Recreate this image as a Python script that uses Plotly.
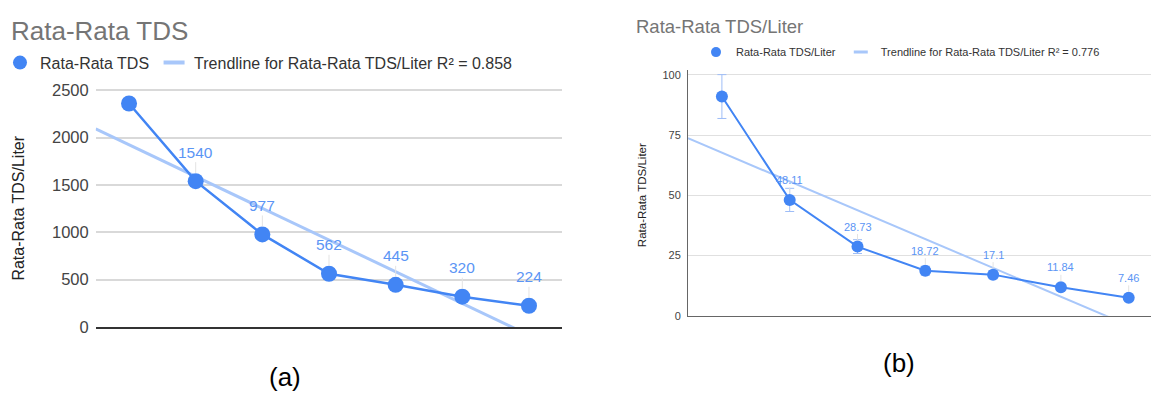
import numpy as np
import plotly.graph_objects as go

# ---------------- data ----------------
categories = ["1", "2", "3", "4", "5", "6", "7"]
tds_avg = [2360, 1540, 977, 562, 445, 320, 224]            # chart (a)
tds_per_liter = [91.0, 48.11, 28.73, 18.72, 17.1, 11.84, 7.46]  # chart (b)
tds_ticks = [0, 500, 1000, 1500, 2000, 2500]
tdsl_ticks = [0, 25, 50, 75, 100]
r2_a = "0.858"
r2_b = "0.776"
err_percent = 10

W, H = 1151, 400
BLUE = "#4285F4"
TREND = "#a8c7fa"
LABEL = "#5b95f5"
FONT = "Liberation Sans, Arial, sans-serif"

pos = list(range(len(categories)))


def fit_line(vals, x0, x1):
    k, b = np.polyfit(np.array(pos, float), np.array(vals, float), 1)
    return [x0, x1], [k * x0 + b, k * x1 + b]


def px(x):
    return x / W


def py(y):
    return 1 - y / H


fig = go.Figure()

# ---------------- chart (a) ----------------
tx, ty = fit_line(tds_avg, -0.5, 6.5)
fig.add_trace(go.Scatter(x=tx, y=ty, mode="lines", line=dict(color=TREND, width=3),
                         showlegend=False, hoverinfo="skip", xaxis="x", yaxis="y"))
fig.add_trace(go.Scatter(x=pos, y=tds_avg, mode="lines+markers",
                         line=dict(color=BLUE, width=2.5), marker=dict(size=16, color=BLUE),
                         showlegend=False, cliponaxis=False, xaxis="x", yaxis="y"))
fig.add_trace(go.Scatter(x=[None], y=[None], mode="markers", name="Rata-Rata TDS",
                         marker=dict(size=14, color=BLUE), legend="legend", xaxis="x", yaxis="y"))
fig.add_trace(go.Scatter(x=[None], y=[None], mode="markers",
                         name=f"Trendline for Rata-Rata TDS/Liter R² = {r2_a}",
                         marker=dict(symbol="line-ew-open", size=15, color=TREND,
                                     line=dict(color=TREND, width=4)),
                         legend="legend", xaxis="x", yaxis="y"))

# ---------------- chart (b) ----------------
tx2, ty2 = fit_line(tds_per_liter, -0.5, 6.5)
fig.add_trace(go.Scatter(x=tx2, y=ty2, mode="lines", line=dict(color=TREND, width=2),
                         showlegend=False, hoverinfo="skip", xaxis="x2", yaxis="y2"))
fig.add_trace(go.Scatter(x=pos, y=tds_per_liter, mode="lines+markers",
                         line=dict(color=BLUE, width=2), marker=dict(size=12, color=BLUE),
                         error_y=dict(type="percent", value=err_percent, color="#9ebdf7",
                                      thickness=1, width=4.5),
                         showlegend=False, cliponaxis=False, xaxis="x2", yaxis="y2"))
fig.add_trace(go.Scatter(x=[None], y=[None], mode="markers", name="Rata-Rata TDS/Liter",
                         marker=dict(size=10, color=BLUE), legend="legend2", xaxis="x2", yaxis="y2"))
fig.add_trace(go.Scatter(x=[None], y=[None], mode="markers",
                         name=f"Trendline for Rata-Rata TDS/Liter R² = {r2_b}",
                         marker=dict(symbol="line-ew-open", size=10, color=TREND,
                                     line=dict(color=TREND, width=3)),
                         legend="legend2", xaxis="x2", yaxis="y2"))

annotations = []
# data labels with leader lines (first point unlabeled, as in the original)
for i in range(1, len(pos)):
    annotations.append(dict(x=pos[i], y=tds_avg[i], xref="x", yref="y", text=f"{tds_avg[i]:g}",
                            showarrow=True, arrowhead=0, arrowwidth=1, arrowcolor="#e3e3e3",
                            ax=0, ay=-29, standoff=8, font=dict(family=FONT, size=15.5, color=LABEL)))
    annotations.append(dict(x=pos[i], y=tds_per_liter[i], xref="x2", yref="y2",
                            text=f"{tds_per_liter[i]:g}",
                            showarrow=True, arrowhead=0, arrowwidth=1, arrowcolor="#e3e3e3",
                            ax=0, ay=-20, standoff=6, font=dict(family=FONT, size=11, color=LABEL)))


def paper_text(text, x, y, size, color, xanchor="center", angle=0):
    return dict(text=text, x=px(x), y=py(y), xref="paper", yref="paper", xanchor=xanchor,
                yanchor="middle", textangle=angle, showarrow=False,
                font=dict(family=FONT, size=size, color=color))


# titles, axis titles, captions
annotations += [
    paper_text("Rata-Rata TDS", 9, 25, 26, "#757575", xanchor="left"),
    paper_text("Rata-Rata TDS/Liter", 19, 210, 16, "#222", angle=-90),
    paper_text("Rata-Rata TDS/Liter", 634, 20, 18.5, "#757575", xanchor="left"),
    paper_text("Rata-Rata TDS/Liter", 642, 196, 11.5, "#222", angle=-90),
    paper_text("(a)", 285, 385, 26, "#000"),
    paper_text("(b)", 899, 371, 26, "#000"),
]

# pixel geometry of plot areas
a_y2500, a_y0 = 86.7, 333.3
a_scale = (a_y0 - a_y2500) / 2500
a_top = 2520
b_y100, b_y0 = 70.7, 321.7
b_scale = (b_y0 - b_y100) / 100
b_top = 102
b_left, b_step = 688, 67.8

fig.update_layout(
    width=W, height=H, margin=dict(l=0, r=0, t=0, b=0),
    paper_bgcolor="white", plot_bgcolor="white",
    font=dict(family=FONT),
    xaxis=dict(domain=[px(95.7), px(562.3)], range=[-0.5, 6.5], anchor="y",
               showgrid=False, zeroline=False, showticklabels=False,
               showline=True, linecolor="#333", linewidth=1.5),
    yaxis=dict(domain=[py(a_y0), py(a_y2500 - (a_top - 2500) * a_scale)], range=[0, a_top],
               anchor="x", tickvals=tds_ticks, showgrid=True, gridcolor="#d9d9d9", gridwidth=1.5,
               zeroline=False, showline=False, ticks="", ticklabelstandoff=6,
               tickfont=dict(family=FONT, size=16.5, color="#444")),
    xaxis2=dict(domain=[px(b_left), 1.0], range=[-0.5, -0.5 + (W - b_left) / b_step], anchor="y2",
                showgrid=False, zeroline=False, showticklabels=False,
                showline=True, linecolor="#666", linewidth=1),
    yaxis2=dict(domain=[py(b_y0), py(b_y100 - (b_top - 100) * b_scale)], range=[0, b_top],
                anchor="x2", tickvals=tdsl_ticks, showgrid=True, gridcolor="#e0e0e0", gridwidth=1,
                zeroline=False, showline=True, linecolor="#666", linewidth=1, ticks="",
                ticklabelstandoff=4, tickfont=dict(family=FONT, size=11, color="#444")),
    legend=dict(orientation="h", x=0, xanchor="left", y=py(58), yanchor="middle",
                font=dict(family=FONT, size=16, color="#333"), bgcolor="rgba(0,0,0,0)"),
    legend2=dict(orientation="h", x=px(696), xanchor="left", y=py(47), yanchor="middle",
                 font=dict(family=FONT, size=11, color="#333"), bgcolor="rgba(0,0,0,0)"),
    annotations=annotations,
)

fig.write_html("out.html", config={"displayModeBar": False},
               post_script="document.body.style.margin='0';document.body.style.overflow='hidden';")
